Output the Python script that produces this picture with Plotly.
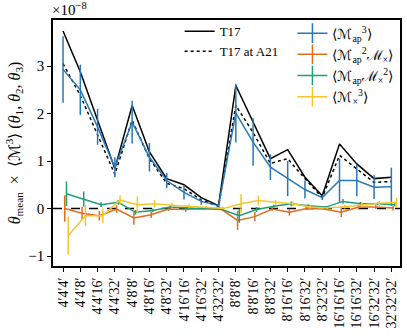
import plotly.graph_objects as go

# triangle configurations (aperture radii in arcmin)
configs = ["4′4′4′", "4′4′8′", "4′4′16′", "4′4′32′", "4′8′8′", "4′8′16′", "4′8′32′",
           "4′16′16′", "4′16′32′", "4′32′32′", "8′8′8′", "8′8′16′", "8′8′32′",
           "8′16′16′", "8′16′32′", "8′32′32′", "16′16′16′", "16′16′32′",
           "16′32′32′", "32′32′32′"]

# model predictions (units of 1e-8)
t17 = [3.74, 2.88, 1.86, 0.84, 2.17, 1.19, 0.63, 0.50, 0.23, 0.06,
       2.59, 1.82, 1.05, 1.24, 0.66, 0.27, 1.36, 0.94, 0.63, 0.66]
t17_a21 = [3.05, 2.38, 1.55, 0.72, 1.86, 1.05, 0.53, 0.42, 0.18, 0.05,
           2.17, 1.60, 0.95, 1.05, 0.63, 0.23, 1.12, 0.84, 0.55, 0.57]

# measurements and errors (units of 1e-8)
map3 = [2.93, 2.50, 1.72, 0.87, 1.82, 1.08, 0.59, 0.34, 0.15, 0.06,
        2.01, 1.40, 0.87, 0.63, 0.40, 0.23, 0.59, 0.59, 0.45, 0.46]
map3_err = [0.70, 0.53, 0.38, 0.21, 0.45, 0.30, 0.16, 0.15, 0.07, 0.02,
            0.62, 0.50, 0.27, 0.37, 0.19, 0.05, 0.46, 0.33, 0.25, 0.40]
map2mx = [0.00, -0.10, -0.15, -0.01, -0.20, -0.13, -0.01, -0.02, 0.00, 0.00,
          -0.25, -0.17, -0.01, -0.08, 0.00, -0.01, -0.08, 0.03, 0.03, 0.01]
map2mx_err = [0.28, 0.14, 0.10, 0.08, 0.14, 0.07, 0.04, 0.05, 0.02, 0.01,
              0.20, 0.10, 0.04, 0.07, 0.03, 0.02, 0.10, 0.05, 0.04, 0.05]
mapmx2 = [0.31, 0.20, 0.08, 0.13, -0.08, -0.04, 0.03, 0.01, 0.00, -0.02,
          -0.15, -0.02, 0.05, 0.10, 0.06, 0.03, 0.15, 0.10, 0.10, 0.08]
mapmx2_err = [0.26, 0.16, 0.05, 0.05, 0.05, 0.04, 0.03, 0.02, 0.01, 0.01,
              0.15, 0.05, 0.03, 0.05, 0.03, 0.02, 0.05, 0.04, 0.03, 0.03]
mx3 = [-0.57, -0.15, -0.15, 0.18, 0.08, 0.10, 0.07, 0.05, 0.03, 0.00,
       0.10, 0.17, 0.13, 0.10, 0.03, 0.01, 0.04, 0.08, 0.11, 0.13]
mx3_err = [0.40, 0.22, 0.15, 0.10, 0.17, 0.08, 0.05, 0.04, 0.02, 0.01,
           0.20, 0.10, 0.05, 0.05, 0.03, 0.02, 0.04, 0.05, 0.05, 0.10]

idx = list(range(len(configs)))
font = "Liberation Serif"

fig = go.Figure()

# theory curves
fig.add_trace(go.Scatter(x=idx, y=t17, mode="lines", name="T17",
                         line=dict(color="black", width=1.5), legend="legend"))
fig.add_trace(go.Scatter(x=idx, y=t17_a21, mode="lines", name="T17 at A21",
                         line=dict(color="black", width=1.5, dash="dot"), legend="legend"))

# measured statistics, shifted slightly along x
series = [
    ("⟨ℳ<sub>ap</sub><sup>3</sup>⟩", map3, map3_err, "#2878b8", 0.0),
    ("⟨ℳ<sub>ap</sub><sup>2</sup>ℳ<sub>×</sub>⟩", map2mx, map2mx_err, "#df6d20", 0.1),
    ("⟨ℳ<sub>ap</sub>ℳ<sub>×</sub><sup>2</sup>⟩", mapmx2, mapmx2_err, "#1f9e76", 0.2),
    ("⟨ℳ<sub>×</sub><sup>3</sup>⟩", mx3, mx3_err, "#f5c62c", 0.3),
]
for name, vals, errs, col, dx in series:
    fig.add_trace(go.Scatter(
        x=[i + dx for i in idx], y=vals, mode="lines", showlegend=False,
        line=dict(color=col, width=1.5),
        error_y=dict(type="data", array=errs, color=col, thickness=1.5, width=0)))
    # legend entry drawn as a cross like an errorbar
    fig.add_trace(go.Scatter(
        x=[None], y=[None], mode="lines+markers", name=name, legend="legend2",
        line=dict(color=col, width=1.5),
        marker=dict(symbol="line-ns-open", size=14, color=col,
                    line=dict(color=col, width=1.5))))

fig.add_hline(y=0, line=dict(color="black", width=1.5, dash="dash"), layer="below")

fig.add_annotation(text="×10<sup>−8</sup>", xref="paper", yref="paper", x=-0.01, y=1.0,
                   xanchor="left", yanchor="bottom", showarrow=False,
                   font=dict(size=15, family=font, color="black"))

fig.update_xaxes(
    range=[-0.58, 19.5], tickmode="array", tickvals=idx, ticktext=configs,
    tickangle=-90, ticks="outside", ticklen=4, tickcolor="black", automargin=False,
    showline=True, linecolor="black", linewidth=1.5, mirror=True,
    showgrid=False, zeroline=False, tickfont=dict(size=14, family=font))
fig.update_yaxes(
    range=[-1.21, 3.97], tickvals=[-1, 0, 1, 2, 3], ticktext=["−1", "0", "1", "2", "3"],
    ticks="outside", ticklen=4, tickcolor="black", automargin=False,
    showline=True, linecolor="black", linewidth=1.5, mirror=True,
    showgrid=False, zeroline=False, tickfont=dict(size=15, family=font),
    title=dict(text="<i>θ</i><sub>mean</sub>  ×  ⟨ℳ<sup>3</sup>⟩ (<i>θ</i><sub>1</sub>, <i>θ</i><sub>2</sub>, <i>θ</i><sub>3</sub>)",
               font=dict(size=16, family=font), standoff=4))

fig.update_layout(
    width=407, height=336, margin=dict(l=53, r=7, t=20, b=70),
    plot_bgcolor="white", paper_bgcolor="white",
    font=dict(family=font, color="black"),
    legend=dict(x=0.365, y=1.015, xanchor="left", yanchor="top",
                bgcolor="rgba(0,0,0,0)", font=dict(size=13, family=font),
                tracegroupgap=0, itemwidth=30),
    legend2=dict(x=0.69, y=1.01, xanchor="left", yanchor="top",
                 bgcolor="rgba(0,0,0,0)", font=dict(size=14, family=font),
                 tracegroupgap=0, itemwidth=30),
)

fig.write_html("out.html", config={"displayModeBar": False},
               post_script="document.body.style.margin='0';")
